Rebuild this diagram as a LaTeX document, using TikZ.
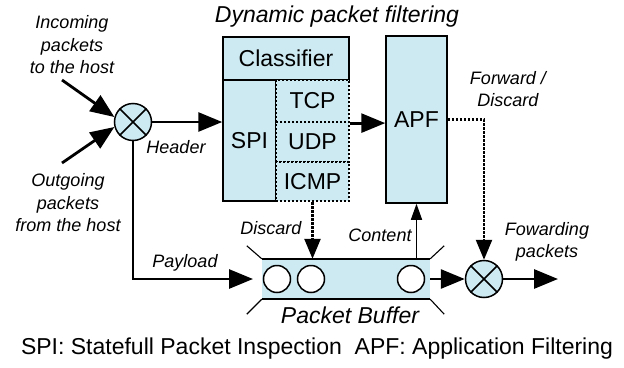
\documentclass[tikz,border=0pt]{standalone}
\usepackage{fontspec}
\setmainfont{Liberation Sans}
\usetikzlibrary{arrows.meta}
\definecolor{boxblue}{HTML}{CDE9F1}
\begin{document}
\begin{tikzpicture}[x=1pt,y=-1pt,
  big/.style={font=\fontsize{23}{27}\selectfont},
  lbl/.style={font=\fontsize{18}{22.5}\selectfont\itshape, align=center, inner sep=0},
  blk/.style={draw, line width=1.5pt, fill=boxblue, inner sep=0, big},
  dotbox/.style={draw, line width=2.2pt, dash pattern=on 2.4pt off 1.6pt, fill=boxblue, inner sep=0, big},
  mix/.style={circle, draw, line width=1.5pt, fill=boxblue, minimum size=37pt, inner sep=0},
  pkt/.style={circle, draw, line width=1.5pt, fill=white, minimum size=27pt, inner sep=0},
  arr/.style={line width=2.8pt, -{Triangle[length=24pt 0 0,width=19pt 0 0]}},
  darr/.style={line width=2.4pt, dash pattern=on 2.4pt off 1.6pt, -{Triangle[length=20pt 0 0,width=16pt 0 0]}},
  carr/.style={line width=1.5pt, -{Triangle[length=16pt 0 0,width=11pt 0 0]}}
]
\useasboundingbox (0,0) rectangle (624,367);

% title
\node[lbl, font=\fontsize{23}{27}\selectfont\itshape] (title) at (337,17) {Dynamic packet filtering};

% SPI block
\node[blk, minimum width=126pt, minimum height=43pt] (cls) at (286,58.5) {Classifier};
\node[blk, minimum width=53pt, minimum height=121pt] (spi) at (249.5,140.5) {SPI};
\node[dotbox, minimum width=73pt, minimum height=42pt] (tcp) at (312.5,101) {TCP};
\node[dotbox, minimum width=73pt, minimum height=40pt] (udp) at (312.5,142) {UDP};
\node[dotbox, minimum width=73pt, minimum height=39pt] (icmp) at (312.5,181.5) {ICMP};

% APF
\node[blk, minimum width=61pt, minimum height=167pt] (apf) at (416.5,119.5) {APF};

% mixers
\node[mix] (inx) at (133,122) {};
\draw[line width=1.5pt] (inx.north west) -- (inx.south east) (inx.north east) -- (inx.south west);
\node[mix] (outx) at (484,279) {};
\draw[line width=1.5pt] (outx.north west) -- (outx.south east) (outx.north east) -- (outx.south west);

% buffer
\node[fill=boxblue, minimum width=168pt, minimum height=40pt, inner sep=0] (buf) at (346,279) {};
\draw[line width=1.5pt] (buf.north west) -- (buf.north east) (buf.south west) -- (buf.south east);
\draw[line width=1.1pt] (buf.north west) -- ++(-15,-13) (buf.south west) -- ++(-15,15)
  (buf.north east) -- ++(14,-13) (buf.south east) -- ++(14,15);
\node[pkt] (p1) at (277,279) {};
\node[pkt] (p2) at (311,279) {};
\node[pkt] (p3) at (411,279) {};
\node[lbl, font=\fontsize{23}{27}\selectfont\itshape] (buflbl) at (350,315) {Packet Buffer};

% coordinates
\coordinate (inA) at (62,80);
\coordinate (outA) at (62,163);
\coordinate (fend) at (558,279);
\coordinate (payend) at (253,279);

% connectors
\draw[arr] (inA) -- (inx.165);
\draw[arr] (outA) -- (inx.195);
\draw[arr] (inx.east) -- (inx.east -| spi.west);
\draw[arr] (tcp.south east) -- (tcp.south east -| apf.west);
\draw[arr] (inx.south) |- (payend);
\draw[darr] (icmp.south) -- (icmp.south |- buf.north);
\draw[carr] (apf.south |- buf.north) -- (apf.south);
\draw[darr] (apf.east) -| (outx.north);
\draw[arr] (buf.east) -- (outx.west);
\draw[arr] (outx.east) -- (fend);

% labels
\node[lbl] (incl) at (72,45) {Incoming\\packets\\to the host};
\node[lbl] (outl) at (68,203) {Outgoing\\packets\\from the host};
\node[lbl] (hdrl) at (176,147) {Header};
\node[lbl] (payl) at (185,263) {Payload};
\node[lbl] (disl) at (271,228) {Discard};
\node[lbl] (conl) at (380,235) {Content};
\node[lbl] (fdl) at (508,89) {Forward /\\Discard};
\node[lbl] (fwl) at (547,242) {Fowarding\\packets};

% caption
\node[inner sep=0, font=\fontsize{23}{27}\selectfont] (cap) at (317,349) {SPI: Statefull Packet Inspection\ \ APF: Application Filtering};
\end{tikzpicture}
\end{document}
